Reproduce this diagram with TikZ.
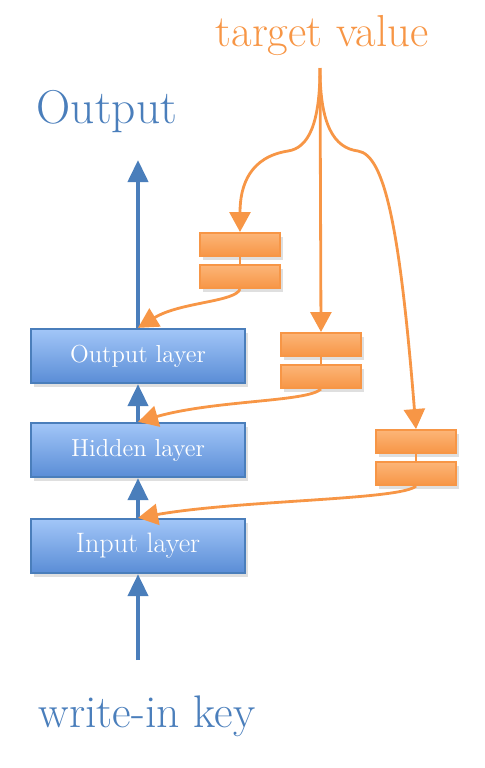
\documentclass[tikz,border=0pt]{standalone}
\usepackage{xcolor}
\usepackage{tikz}
\usetikzlibrary{arrows.meta,shadows}

\definecolor{netblue}{HTML}{4A7EBB}
\definecolor{layertop}{HTML}{A2C6F8}
\definecolor{layerbot}{HTML}{5A8DD6}
\definecolor{tgtorange}{HTML}{F79646}
\definecolor{bartop}{HTML}{FCB578}
\definecolor{barbot}{HTML}{F79646}

\begin{document}
\begin{tikzpicture}[x=0.02cm,y=-0.02cm,
    layer/.style={draw=netblue, line width=1.3pt, top color=layertop, bottom color=layerbot,
      minimum width=4.28cm, minimum height=1.08cm, inner sep=0pt, text=white,
      drop shadow={opacity=0.25, shadow xshift=0.06cm, shadow yshift=-0.08cm}},
    bar/.style={draw=tgtorange, line width=1.1pt, top color=bartop, bottom color=barbot,
      minimum width=1.6cm, minimum height=0.46cm, inner sep=0pt,
      drop shadow={opacity=0.25, shadow xshift=0.06cm, shadow yshift=-0.08cm}},
    upflow/.style={netblue, line width=2.3pt, -{Triangle[length=0.44cm, width=0.4cm]}},
    feed/.style={tgtorange, line width=1.6pt, -{Triangle[length=0.4cm, width=0.42cm]}}]
    \useasboundingbox (0,0) rectangle (484,768);

    % Labels
    \node[text=netblue, font=\fontsize{27}{30}\selectfont] (out) at (107,112) {Output};
    \node[text=tgtorange, font=\fontsize{25.5}{29}\selectfont] (tgt) at (322,36) {target value};
    \node[text=netblue, font=\fontsize{26}{30}\selectfont] (key) at (147,716) {write-in key};

    % Layers
    \node[layer, font=\fontsize{14}{16}\selectfont] (olayer) at (138,356) {Output layer};
    \node[layer, font=\fontsize{14}{16}\selectfont] (hlayer) at (138,450) {Hidden layer};
    \node[layer, font=\fontsize{16}{18}\selectfont] (ilayer) at (138,546) {Input layer};

    % Bars
    \node[bar] (a1) at (240,244.5) {};
    \node[bar] (a2) at (240,276.5) {};
    \node[bar] (b1) at (321,344.5) {};
    \node[bar] (b2) at (321,376.5) {};
    \node[bar] (c1) at (416,441.5) {};
    \node[bar] (c2) at (416,473.5) {};
    \draw[tgtorange, line width=1.6pt] (a1) -- (a2);
    \draw[tgtorange, line width=1.6pt] (b1) -- (b2);
    \draw[tgtorange, line width=1.6pt] (c1) -- (c2);

    % Blue flow
    \coordinate (keytop) at (138,660);
    \coordinate (outtip) at (138,160);
    \draw[upflow] (keytop) -- (ilayer.south);
    \draw[upflow] (ilayer.north) -- (hlayer.south);
    \draw[upflow] (hlayer.north) -- (olayer.south);
    \draw[upflow] (olayer.north) -- (outtip);

    % Target fan
    \coordinate (src) at (320,68);
    \draw[feed] (src) .. controls (320,125) and (308,148) .. (288,151)
                      .. controls (250,157) and (240,185) .. (a1.north);
    \draw[feed] (src) -- (b1.north);
    \draw[feed] (src) .. controls (320,125) and (334,148) .. (358,151)
                      .. controls (385,155) and (400,230) .. (c1.north);

    % Feedback to layers
    \draw[feed] (a2.south) .. controls (236,302) and (180,302) .. (olayer.north);
    \draw[feed] (b2.south) .. controls (308,402) and (215,400) .. (hlayer.north);
    \draw[feed] (c2.south) .. controls (402,500) and (240,500) .. (ilayer.north);
\end{tikzpicture}
\end{document}
